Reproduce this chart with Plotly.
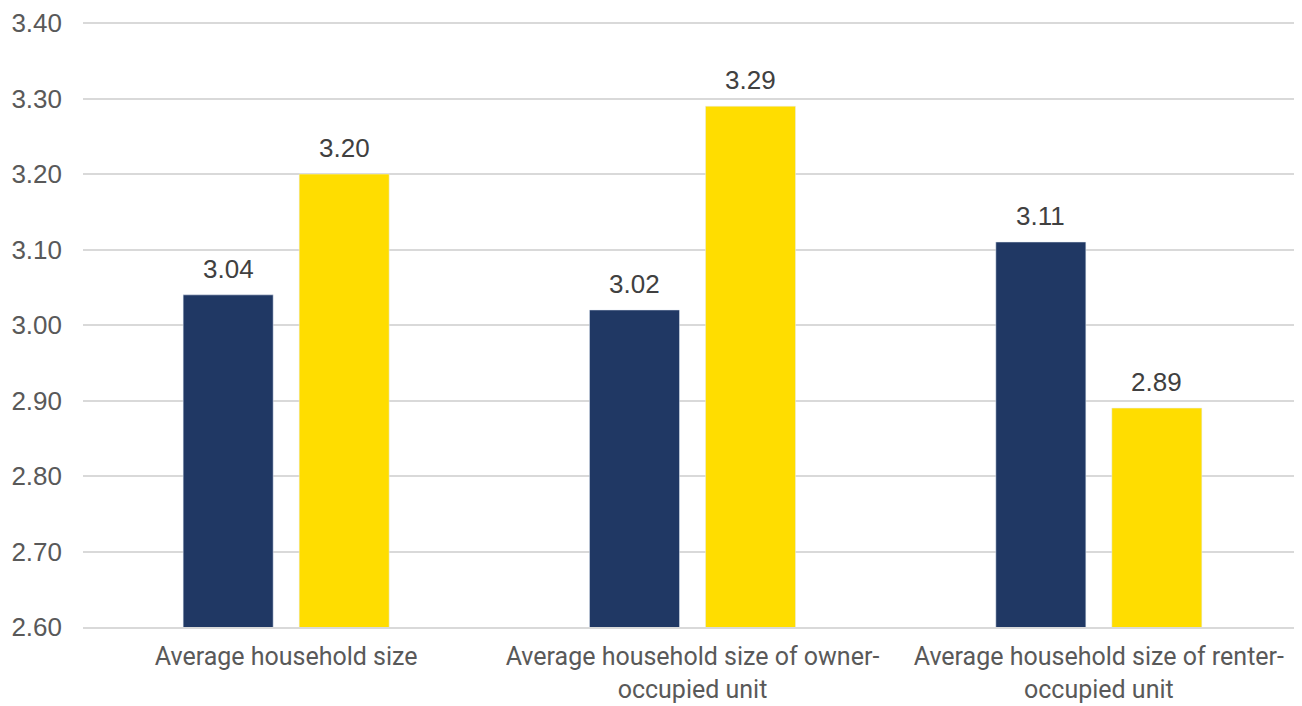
import plotly.graph_objects as go

categories = ["Average household size",
              "Average household size of owner-<br>occupied unit",
              "Average household size of renter-<br>occupied unit"]
series_a = [3.04, 3.02, 3.11]
series_b = [3.20, 3.29, 2.89]
tick_vals = [2.6, 2.7, 2.8, 2.9, 3.0, 3.1, 3.2, 3.3, 3.4]
tick_text = [f"{v:.2f}" for v in tick_vals]

label_font = dict(size=26, color="#404040", family="Liberation Sans")

fig = go.Figure()
fig.add_trace(go.Bar(x=categories, y=series_a, marker_color="#203864", name="A"))
fig.add_trace(go.Bar(x=categories, y=series_b, marker_color="#FFDD00", name="B"))

for series, shift in ((series_a, -58), (series_b, 58)):
    for cat, v in zip(categories, series):
        fig.add_annotation(x=cat, y=v, xref="x", yref="y", text=f"{v:.2f}",
                           showarrow=False, xshift=shift, yanchor="bottom",
                           yshift=9, font=label_font)

fig.update_layout(
    width=1294, height=698,
    margin=dict(l=75, r=0, t=14, b=79),
    barmode="group", bargap=0.429, bargroupgap=0.224,
    showlegend=False,
    plot_bgcolor="white", paper_bgcolor="white",
    font=dict(family="Liberation Sans", color="#595959", size=26),
)
fig.update_yaxes(range=[2.6, 3.4015], tickvals=tick_vals, ticktext=tick_text,
                 showgrid=True, gridcolor="#D9D9D9", gridwidth=2,
                 zeroline=False, showline=False, ticks="", automargin=False,
                 ticklabelstandoff=20,
                 tickfont=dict(size=26, color="#595959", family="Liberation Sans"))
fig.update_xaxes(showline=True, linecolor="#D9D9D9", linewidth=2, ticks="",
                 automargin=False, ticklabelstandoff=6,
                 tickfont=dict(size=25, color="#595959", family="Liberation Sans Narrow, Roboto"))

fig.write_html("out.html")
